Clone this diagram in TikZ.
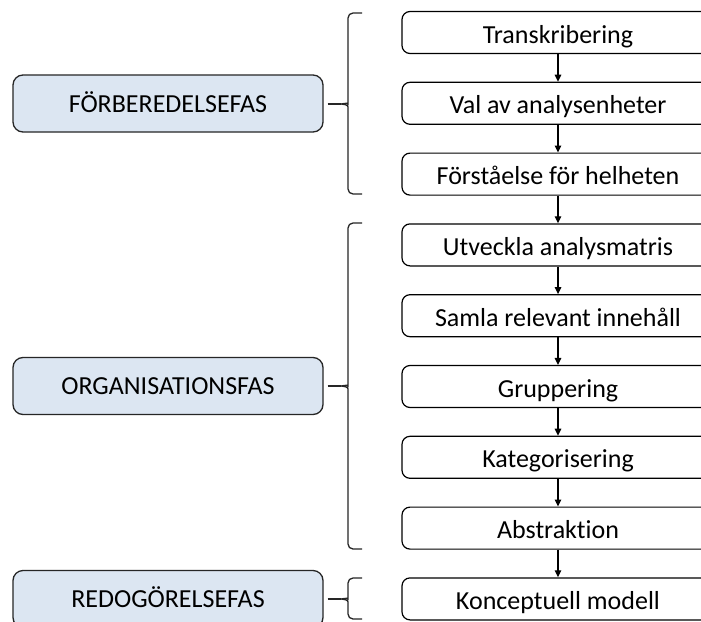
\documentclass[tikz,border=0pt]{standalone}
\usepackage{fontspec}
\setmainfont[Ligatures={NoCommon}]{Carlito}
\usetikzlibrary{arrows.meta}
\definecolor{phasefill}{HTML}{DCE6F2}
\definecolor{braceline}{HTML}{262626}
\tikzset{
  stepbox/.style={draw=black, line width=1.2pt, rounded corners=8pt, fill=white,
    minimum width=312pt, minimum height=42pt, inner sep=0pt,
    text height=21pt, text depth=0pt,
    font=\fontsize{26}{30}\selectfont},
  phasebox/.style={draw=black!85, line width=1.3pt, rounded corners=10pt, fill=phasefill,
    minimum width=310pt, minimum height=57pt, inner sep=0pt,
    text height=17pt, text depth=0pt,
    font=\fontsize{26}{30}\selectfont},
  flow/.style={line width=1.3pt, -{Triangle[length=7pt,width=6.5pt]}},
  bracestyle/.style={draw=braceline, line width=1.3pt},
}
\newcommand{\phasebrace}[4]{% name, top, mid, bottom
  \coordinate (#1) at (341,#3);
  \draw[bracestyle, rounded corners=5pt] (362,#2) -- (348,#2) -- (348,#3-5)
    [sharp corners] .. controls (348,#3-1) .. (#1) .. controls (348,#3+1) .. (348,#3+5)
    [rounded corners=5pt] -- (348,#4) -- (362,#4);
}
\begin{document}
\begin{tikzpicture}[x=1pt,y=-1pt]
\useasboundingbox (0,0) rectangle (701,621);
\clip (0,0) rectangle (701,621);
\fill[white] (0,0) rectangle (701,621);

% step boxes
\node[stepbox] (s1) at (558,32.5) {Transkribering};
\node[stepbox] (s2) at (558,103.3) {Val av analysenheter};
\node[stepbox] (s3) at (558,174.1) {Förståelse för helheten};
\node[stepbox] (s4) at (558,244.9) {Utveckla analysmatris};
\node[stepbox] (s5) at (558,315.7) {Samla relevant innehåll};
\node[stepbox] (s6) at (558,386.5) {Gruppering};
\node[stepbox] (s7) at (558,457.3) {Kategorisering};
\node[stepbox] (s8) at (558,528.1) {Abstraktion};
\node[stepbox] (s9) at (558,598.9) {Konceptuell modell};

\foreach \a/\b in {s1/s2,s2/s3,s3/s4,s4/s5,s5/s6,s6/s7,s7/s8,s8/s9}
  \draw[flow] (\a.south) -- (\b.north);

% phase boxes
\node[phasebox] (p1) at (168,103.5) {FÖRBEREDELSEFAS};
\node[phasebox] (p2) at (168,386) {ORGANISATIONSFAS};
\node[phasebox] (p3) at (168,599) {REDOGÖRELSEFAS};

% braces
\phasebrace{c1}{13}{104}{194}
\phasebrace{c2}{223}{386}{549}
\phasebrace{c3}{578}{599}{619}

\draw[bracestyle, shorten <=4pt] (p1.east |- c1) -- (c1);
\draw[bracestyle, shorten <=4pt] (p2.east |- c2) -- (c2);
\draw[bracestyle, shorten <=4pt] (p3.east |- c3) -- (c3);
\end{tikzpicture}
\end{document}
